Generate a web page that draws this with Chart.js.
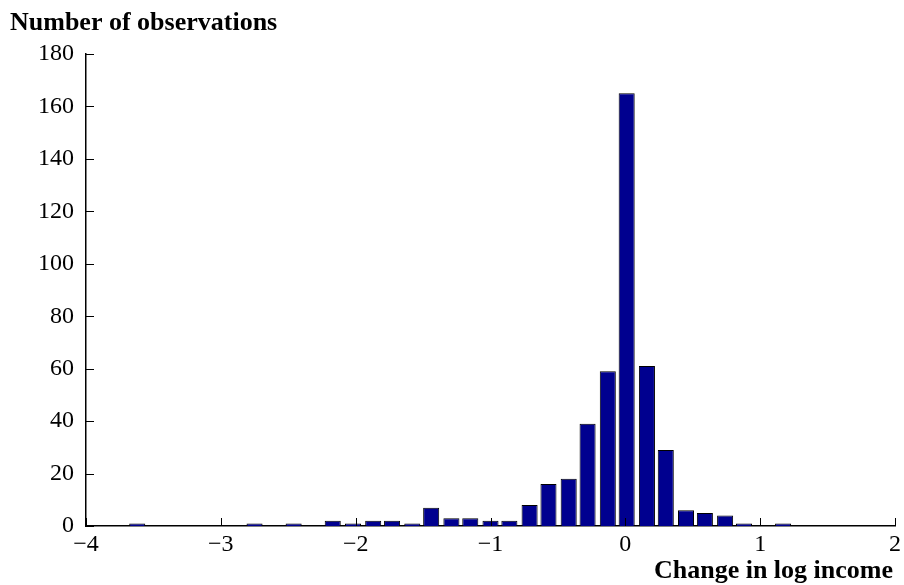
<!DOCTYPE html>
<html>
<head>
<meta charset="utf-8">
<script src="https://cdn.jsdelivr.net/npm/chart.js@4"></script>
<style>
  body { margin: 0; background: #fff; }
  #wrap { width: 904px; height: 585px; }
</style>
</head>
<body>
<div id="wrap"><canvas id="c"></canvas></div>
<script>
// bin centres (change in log income) and counts
const binCenters = [-3.62, -2.75, -2.46, -2.17, -2.02, -1.87, -1.73, -1.58, -1.44, -1.29,
  -1.15, -1.00, -0.86, -0.71, -0.57, -0.42, -0.28, -0.13, 0.01, 0.16, 0.30, 0.45, 0.59, 0.74, 0.88, 1.17];
const counts = [1, 1, 1, 2, 1, 2, 2, 1, 7, 3, 3, 2, 2, 8, 16, 18, 39, 59, 165, 61, 29, 6, 5, 4, 1, 1];
const xTicks = [-4, -3, -2, -1, 0, 1, 2];
const yTicks = [0, 20, 40, 60, 80, 100, 120, 140, 160, 180];

const FONT = "'Liberation Serif', 'DejaVu Serif', serif";

// MATLAB style: tick marks pointing into the plot, labels outside
const innerTicks = {
  id: "innerTicks",
  afterDraw(chart) {
    const { ctx, scales } = chart;
    const x0 = scales.y.right, y0 = scales.x.top;
    ctx.save();
    ctx.strokeStyle = "#000";
    ctx.lineWidth = 1;
    xTicks.forEach(v => {
      const px = Math.round(scales.x.getPixelForValue(v)) + 0.5;
      ctx.beginPath(); ctx.moveTo(px, y0); ctx.lineTo(px, y0 - 8); ctx.stroke();
    });
    yTicks.forEach(v => {
      const py = Math.round(scales.y.getPixelForValue(v)) + 0.5;
      ctx.beginPath(); ctx.moveTo(x0, py); ctx.lineTo(x0 + 8, py); ctx.stroke();
    });
    ctx.fillStyle = "#000";
    ctx.font = "bold 26px " + FONT;
    ctx.textAlign = "left";
    ctx.textBaseline = "alphabetic";
    ctx.fillText("Number of observations", 10, 30);
    ctx.textAlign = "right";
    ctx.fillText("Change in log income", 893, 578);
    ctx.restore();
  }
};

new Chart(document.getElementById("c"), {
  type: "bar",
  data: {
    datasets: [{
      data: binCenters.map((x, i) => ({ x: x, y: counts[i] })),
      backgroundColor: "#00008f",
      borderColor: "#000",
      borderWidth: 1,
      barPercentage: 0.85,
      categoryPercentage: 1
    }]
  },
  options: {
    responsive: true,
    maintainAspectRatio: false,
    animation: false,
    layout: { padding: { top: 54, right: 9, left: 0, bottom: 0 } },
    plugins: { legend: { display: false }, tooltip: { enabled: false } },
    scales: {
      x: {
        type: "linear",
        offset: false,
        min: -4, max: 2,
        afterBuildTicks: s => { s.ticks = xTicks.map(v => ({ value: v })); },
        afterFit: s => { s.height = 59; },
        grid: { display: false, offset: false },
        border: { color: "#000", width: 1.5 },
        ticks: {
          color: "#000", font: { family: FONT, size: 24 }, padding: -4,
          callback: v => String(v).replace("-", "\u2212")
        }
      },
      y: {
        min: 0, max: 180,
        afterBuildTicks: s => { s.ticks = yTicks.map(v => ({ value: v })); },
        afterFit: s => { s.width = 86; },
        grid: { display: false },
        border: { color: "#000", width: 1.5 },
        ticks: { color: "#000", font: { family: FONT, size: 24 }, padding: 4 }
      }
    }
  },
  plugins: [innerTicks]
});
</script>
</body>
</html>
